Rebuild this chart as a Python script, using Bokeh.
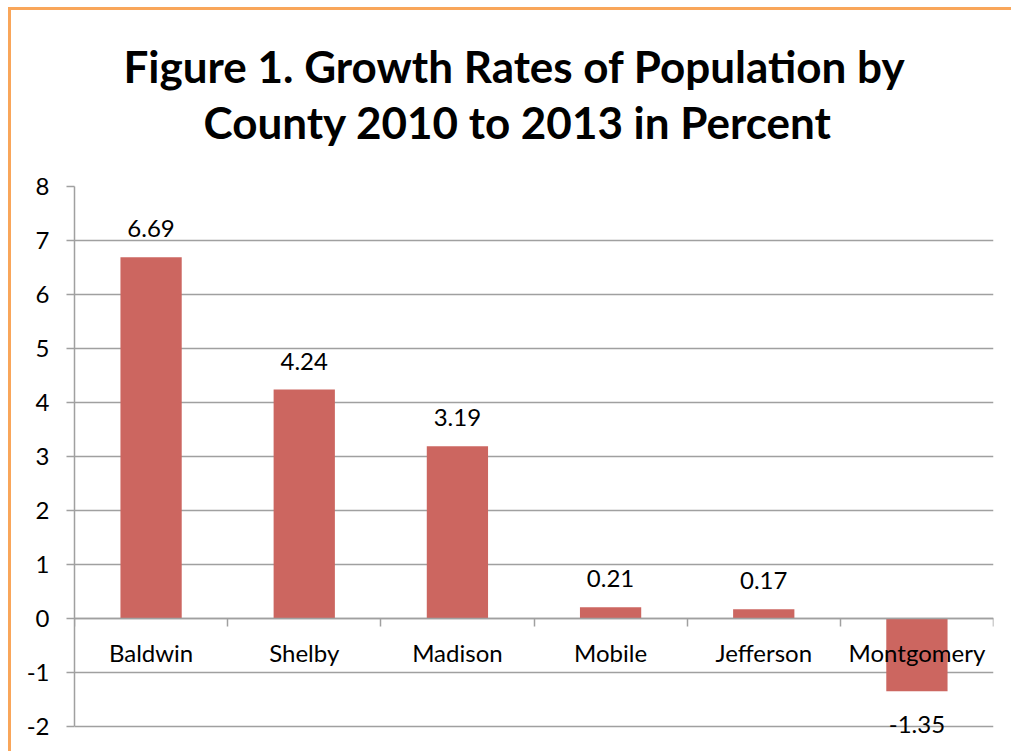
from bokeh.plotting import figure
from bokeh.models import (Range1d, FixedTicker, LinearAxis, LabelSet, Title,
                          ColumnDataSource, Grid)
from bokeh.embed import file_html
from bokeh.resources import INLINE
from bokeh.core.properties import value

# ---- data ----
counties = ["Baldwin", "Shelby", "Madison", "Mobile", "Jefferson", "Montgomery"]
growth = [6.69, 4.24, 3.19, 0.21, 0.17, -1.35]
growth_labels = ["6.69", "4.24", "3.19", "0.21", "0.17", "-1.35"]
y_ticks = [-2, -1, 0, 1, 2, 3, 4, 5, 6, 7, 8]
y_tick_labels = ["-2", "-1", "0", "1", "2", "3", "4", "5", "6", "7", "8"]
title_lines = ["Figure 1. Growth Rates of Population by",
               "County 2010 to 2013 in Percent"]

# ---- style ----
FONT = "Lato"
BAR = "#CC6660"
GRID = "#A0A0A0"
ORANGE = "#F9A65A"
Y_START = -2.26  # a little room below -2 so the negative data label is not clipped
TITLE_SIZE = "44px"
TITLE_OFFSETS = [49, 129]   # left offsets (px) of the two title lines

n = len(counties)
xpos = [i + 0.5 for i in range(n)]
source = ColumnDataSource(dict(
    x=xpos, top=growth, county=counties, label=growth_labels,
    zero=[0] * n,
    off=[20 if v >= 0 else -42 for v in growth],
))

p = figure(width=1003, height=744,
           x_range=Range1d(0, n), y_range=Range1d(Y_START, y_ticks[-1]),
           output_backend="svg", toolbar_location=None,
           x_axis_type=None, y_axis_type=None,
           min_border_left=63, min_border_right=21,
           min_border_top=176, min_border_bottom=14)
p.outline_line_color = None
p.background_fill_color = "white"
p.border_fill_color = "white"
p.styles = {"border-left": f"3px solid {ORANGE}", "border-top": f"3px solid {ORANGE}",
            "margin-left": "8px", "margin-top": "7px"}

grid = Grid(dimension=1, ticker=FixedTicker(ticks=y_ticks),
            grid_line_color=GRID, grid_line_width=1.5)
p.add_layout(grid)

yaxis = LinearAxis(ticker=FixedTicker(ticks=y_ticks), bounds=(y_ticks[0], y_ticks[-1]))
yaxis.axis_line_color = GRID
yaxis.axis_line_width = 1.5
yaxis.major_tick_line_color = GRID
yaxis.major_tick_line_width = 1.5
yaxis.major_tick_in = 0
yaxis.major_tick_out = 8
yaxis.minor_tick_line_color = None
yaxis.major_label_standoff = 17
yaxis.major_label_text_font = FONT
yaxis.major_label_text_font_size = "24px"
yaxis.major_label_text_color = "black"
yaxis.major_label_overrides = {t: s for t, s in zip(y_ticks, y_tick_labels)}
p.add_layout(yaxis, "left")

xaxis = LinearAxis(ticker=FixedTicker(ticks=list(range(n + 1))), fixed_location=0)
xaxis.axis_line_color = GRID
xaxis.axis_line_width = 1.5
xaxis.major_tick_line_color = GRID
xaxis.major_tick_line_width = 1.5
xaxis.major_tick_in = 0
xaxis.major_tick_out = 8
xaxis.minor_tick_line_color = None
xaxis.major_label_text_color = None
p.add_layout(xaxis, "below")

p.vbar(x="x", top="top", bottom=0, width=0.4, source=source,
       fill_color=BAR, line_color=None)

cat_labels = LabelSet(x="x", y="zero", text="county", source=source,
                      y_offset=-44, text_align="center", text_baseline="alphabetic",
                      text_font=value(FONT), text_font_size="24px", text_color="black")
p.add_layout(cat_labels)

val_labels = LabelSet(x="x", y="top", text="label", source=source,
                      y_offset="off", text_align="center", text_baseline="alphabetic",
                      text_font=value(FONT), text_font_size="24px", text_color="black")
p.add_layout(val_labels)

# empty spacer panel between the title and the plot area
p.add_layout(Title(text=" ", text_font_size="10px", standoff=25), "above")
for line, off in reversed(list(zip(title_lines, TITLE_OFFSETS))):
    p.add_layout(Title(text=line, align="left", offset=off, text_font=FONT,
                       text_font_style="bold", text_font_size=TITLE_SIZE,
                       text_color="black", standoff=2), "above")

open("out.html", "w").write(file_html(p, INLINE))
